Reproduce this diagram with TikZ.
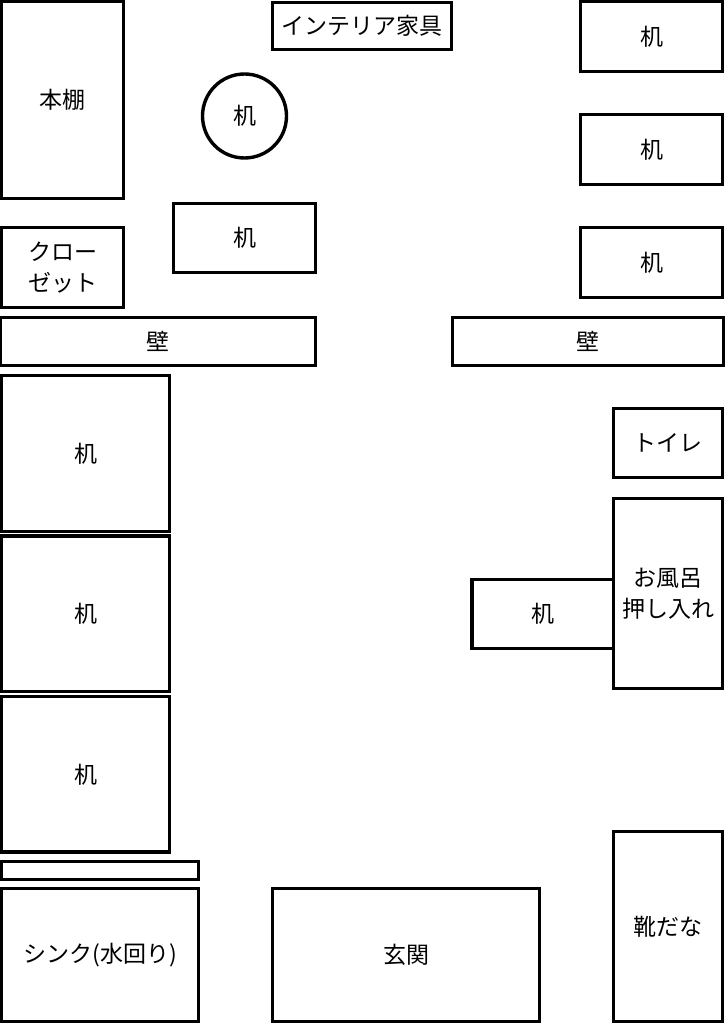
\documentclass[tikz,border=0pt]{standalone}
\usepackage{fontspec}
\setmainfont{Noto Sans CJK JP}
\usetikzlibrary{positioning}
\tikzstyle{room} = [rectangle, draw=black, line width=3.4pt, inner sep=0pt, text centered, align=center, font=\fontsize{23}{31}\selectfont]
\tikzstyle{desk} = [room, minimum width=141.5pt, minimum height=68.5pt]
\tikzstyle{sidedesk} = [desk, minimum height=69.5pt]
\tikzstyle{longdesk} = [room, minimum width=167.5pt, minimum height=155.5pt]
\tikzstyle{wall} = [room, minimum height=47.5pt]
\begin{document}
\begin{tikzpicture}[x=1pt,y=-1pt,node distance=1.5pt]
      \useasboundingbox (0,0) rectangle (724,1024);
      % upper room
      \node (shelf) [room, minimum width=121.5pt, minimum height=197.5pt] at (62.5,100) {本棚};
      \node (sign) [room, minimum width=178.5pt, minimum height=47.5pt] at (362,26) {インテリア家具};
      \node (round) [room, circle, minimum size=84pt] at (244.5,116) {机};
      \node (deskmid) [desk] at (244.5,238) {机};
      \node (closet) [room, minimum width=121.5pt, minimum height=79.5pt] at (62.5,267.5) {クロー\\ゼット};
      \node (deska) [sidedesk] at (651.5,36.5) {机};
      \node (deskb) [sidedesk] at (651.5,149.5) {机};
      \node (deskc) [sidedesk] at (651.5,262.5) {机};
      % walls
      \node (wallleft) [wall, minimum width=314.5pt] at (158,341.5) {壁};
      \node (wallright) [wall, minimum width=270.5pt] at (588,341.5) {壁};
      % lower room
      \node (deskd) [longdesk] at (85.5,453.5) {机};
      \node (deske) [longdesk, below=of deskd] {机};
      \node (deskf) [longdesk, below=of deske] {机};
      \node (toilet) [room, minimum width=108.5pt, minimum height=68.5pt] at (668,443) {トイレ};
      \node (bath) [room, minimum width=108.5pt, minimum height=189.5pt] at (668,593.5) {お風呂\\押し入れ};
      \node (deskg) [desk, left=-3pt of bath.west, yshift=-20.5pt] {机};
      \node (counter) [room, minimum width=196.5pt, minimum height=17.5pt] at (100,870.5) {};
      \node (sink) [room, minimum width=196.5pt, minimum height=132.5pt] at (100,955) {シンク(水回り)};
      \node (entry) [room, minimum width=266.5pt, minimum height=132.5pt] at (406,955) {玄関};
      \node (shoes) [room, minimum width=108.5pt, minimum height=189.5pt] at (668,926.5) {靴だな};

\end{tikzpicture}
\end{document}
